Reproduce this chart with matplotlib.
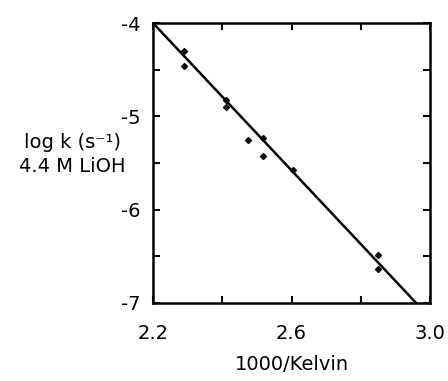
import matplotlib
matplotlib.use("Agg")
import matplotlib.pyplot as plt
from matplotlib.ticker import FixedLocator, FormatStrFormatter

plt.rcParams['font.family'] = ['DejaVu Sans']
plt.rcParams['axes.unicode_minus'] = False

# data
inv_T = [2.290, 2.290, 2.411, 2.411, 2.475, 2.517, 2.517, 2.603, 2.851, 2.851]
log_k = [-4.30, -4.457, -4.825, -4.90, -5.257, -5.236, -5.43, -5.578, -6.486, -6.64]
fit_x = [2.20, 2.96]
fit_y = [-4.00, -7.00]
x_major = [2.2, 2.6, 3.0]
x_minor = [2.4, 2.8]
y_major = [-7, -6, -5, -4]
y_minor = [-6.5, -5.5, -4.5]

fig = plt.figure(figsize=(4.48, 3.81), dpi=100)
ax = fig.add_axes([153/448, 1 - 303/381, 277/448, 280/381])

ax.plot(fit_x, fit_y, color='black', lw=1.8)
ax.plot(inv_T, log_k, 'D', color='black', ms=3)

ax.set_xlim(2.2, 3.0)
ax.set_ylim(-7, -4)
ax.xaxis.set_major_locator(FixedLocator(x_major))
ax.xaxis.set_minor_locator(FixedLocator(x_minor))
ax.yaxis.set_major_locator(FixedLocator(y_major))
ax.yaxis.set_minor_locator(FixedLocator(y_minor))
ax.xaxis.set_major_formatter(FormatStrFormatter('%.1f'))
ax.yaxis.set_major_formatter(FormatStrFormatter('%d'))

for which in ('major', 'minor'):
    ax.tick_params(which=which, direction='in', length=5, width=1.5,
                   top=True, right=True, labelsize=14)
ax.tick_params(axis='x', which='both', pad=15)
ax.tick_params(axis='y', which='both', pad=9)
for s in ax.spines.values():
    s.set_linewidth(1.8)
for lab in ax.get_xticklabels() + ax.get_yticklabels():
    lab.set_clip_on(False)

ax.set_xlabel('1000/Kelvin', fontsize=14, labelpad=9)
fig.text(72/448, 1 - 143/381, 'log k (s⁻¹)', ha='center', va='center', fontsize=14)
fig.text(72/448, 1 - 167/381, '4.4 M LiOH', ha='center', va='center', fontsize=14)

fig.savefig('out.png', dpi=100)
